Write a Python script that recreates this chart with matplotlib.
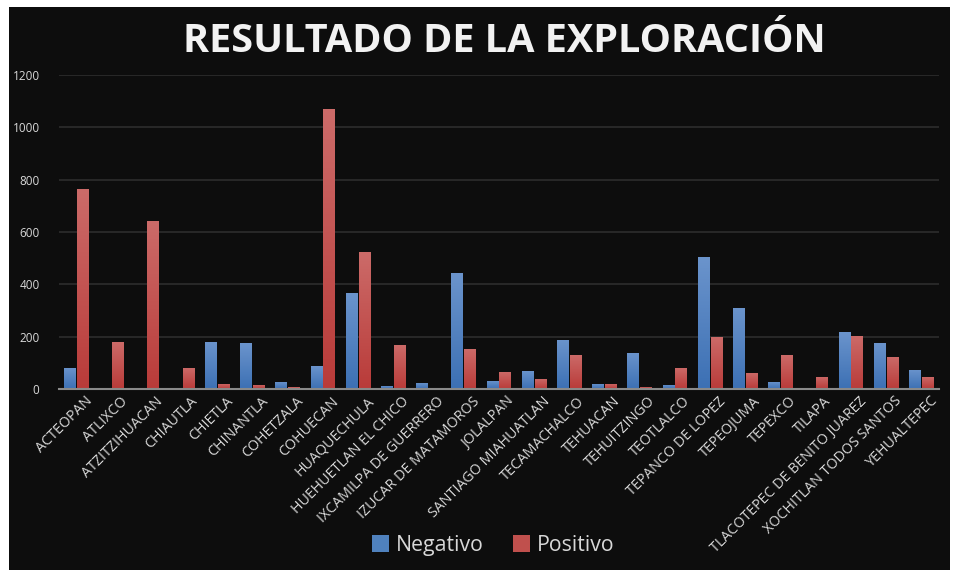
import matplotlib.pyplot as plt
import matplotlib.transforms as mtransforms
from matplotlib.colors import LinearSegmentedColormap
import numpy as np

municipios = ["ACTEOPAN", "ATLIXCO", "ATZITZIHUACAN", "CHIAUTLA", "CHIETLA",
              "CHINANTLA", "COHETZALA", "COHUECAN", "HUAQUECHULA",
              "HUEHUETLAN EL CHICO", "IXCAMILPA DE GUERRERO",
              "IZUCAR DE MATAMOROS", "JOLALPAN", "SANTIAGO MIAHUATLAN",
              "TECAMACHALCO", "TEHUACAN", "TEHUITZINGO", "TEOTLALCO",
              "TEPANCO DE LOPEZ", "TEPEOJUMA", "TEPEXCO", "TILAPA",
              "TLACOTEPEC DE BENITO JUAREZ", "XOCHITLAN TODOS SANTOS",
              "YEHUALTEPEC"]
negativo = [82, 0, 0, 0, 181, 174, 28, 86, 365, 13, 24, 442, 32, 70, 189,
            20, 139, 17, 503, 311, 28, 0, 216, 177, 74]
positivo = [763, 181, 641, 82, 20, 17, 6, 1070, 522, 170, 5, 154, 66, 40, 131,
            20, 9, 82, 200, 63, 131, 47, 204, 124, 47]

bg = "#0d0d0d"
fig = plt.figure(figsize=(9.56, 5.77), dpi=100, facecolor="white")
# panel oscuro
panel = fig.add_axes([9 / 956, 7 / 577, 941 / 956, 563 / 577])
panel.set_facecolor(bg)
panel.set_xticks([])
panel.set_yticks([])
for s in panel.spines.values():
    s.set_visible(False)

ax = fig.add_axes([59 / 956, 1 - 389 / 577, 880 / 956, 314 / 577])
ax.set_facecolor(bg)

x = np.arange(len(municipios))
w = 0.34
b_neg = ax.bar(x - w / 2 - 0.01, negativo, w, color="#4f81bd", label="Negativo")
b_pos = ax.bar(x + w / 2 + 0.01, positivo, w, color="#c0504d", label="Positivo")

# degradado vertical en cada barra
cm_neg = LinearSegmentedColormap.from_list("n", ["#3c70b4", "#6b94cc"])
cm_pos = LinearSegmentedColormap.from_list("p", ["#b93b39", "#cc6b69"])
grad = np.linspace(0, 1, 256).reshape(-1, 1)
for bars, cmap in [(b_neg, cm_neg), (b_pos, cm_pos)]:
    for p in bars:
        h = p.get_height()
        if h <= 0:
            continue
        x0 = p.get_x()
        im = ax.imshow(grad, extent=[x0, x0 + p.get_width(), 0, h],
                       origin="lower", cmap=cmap, aspect="auto", zorder=2)
        im.set_clip_path(p)
ax.set_aspect("auto")
ax.set_xlim(-0.5, len(municipios) - 0.5)
ax.set_ylim(0, 1200)

ax.set_yticks(range(0, 1201, 200))
ax.yaxis.grid(True, color="#2a2a2a", linewidth=1.3)
ax.set_axisbelow(True)
for s in ["top", "right", "left"]:
    ax.spines[s].set_visible(False)
ax.spines["bottom"].set_color("#8a8a8a")
ax.spines["bottom"].set_linewidth(1.5)
ax.spines["bottom"].set_zorder(3)
ax.tick_params(axis="both", length=0, colors="#d8d8d8", labelsize=8.5)
ax.tick_params(axis="y", pad=14)
ax.set_xticks(x)
ax.set_xticklabels(municipios, rotation=45, ha="right", rotation_mode="anchor",
                   fontsize=10.3, color="#d8d8d8", family="Open Sans")
off = mtransforms.ScaledTranslation(8 / 100, 0, fig.dpi_scale_trans)
for lab in ax.get_xticklabels():
    lab.set_transform(lab.get_transform() + off)
for lab in ax.get_yticklabels():
    lab.set_family("Open Sans")

fig.text(0.528, 0.928, "RESULTADO DE LA EXPLORACIÓN", ha="center", va="center",
         fontsize=28.5, fontweight="bold", color="#f2f2f2", family="Open Sans")

leg = fig.legend(handles=[b_neg, b_pos], loc="center",
                 bbox_to_anchor=(0.516, 0.055), ncol=2,
                 frameon=False, handlelength=0.8,
                 handleheight=0.8, columnspacing=1.4, handletextpad=0.3,
                 prop={"family": "Open Sans", "size": 15.3})
for t in leg.get_texts():
    t.set_color("#d8d8d8")

fig.savefig("out.png", dpi=100, facecolor="white")
